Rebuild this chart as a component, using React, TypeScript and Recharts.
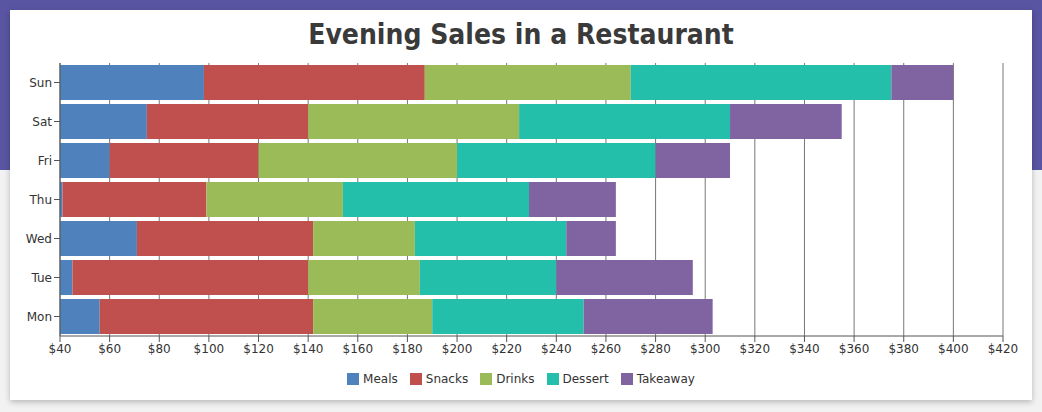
import { BarChart, Bar, XAxis, YAxis, CartesianGrid } from 'recharts'

const days = ['Sun', 'Sat', 'Fri', 'Thu', 'Wed', 'Tue', 'Mon']
const meals = [98, 75, 60, 41, 71, 45, 56]
const snacks = [89, 65, 60, 58, 71, 95, 86]
const drinks = [83, 85, 80, 55, 41, 45, 48]
const dessert = [105, 85, 80, 75, 61, 55, 61]
const takeaway = [25, 45, 30, 35, 20, 55, 52]
const xTicks = [40, 60, 80, 100, 120, 140, 160, 180, 200, 220, 240, 260, 280, 300, 320, 340, 360, 380, 400, 420]

const series = [
  { key: 'Meals', color: '#4f81bc' },
  { key: 'Snacks', color: '#c0504e' },
  { key: 'Drinks', color: '#9bbb58' },
  { key: 'Dessert', color: '#23bfaa' },
  { key: 'Takeaway', color: '#8064a1' },
]

const data = days.map((d, i) => ({
  day: d,
  Meals: meals[i],
  Snacks: snacks[i],
  Drinks: drinks[i],
  Dessert: dessert[i],
  Takeaway: takeaway[i],
}))

const font = '"DejaVu Sans", sans-serif'

export default function App() {
  return (
    <div
      style={{
        position: 'absolute',
        left: 0,
        top: 0,
        width: 1042,
        height: 412,
        background: 'linear-gradient(#5a55a3 0, #5a55a3 170px, #f2f2f2 170px)',
        overflow: 'hidden',
      }}
    >
      <div
        style={{
          position: 'absolute',
          left: 10,
          top: 10,
          width: 1022,
          height: 390,
          background: '#fff',
          boxShadow: '0 2px 6px rgba(0,0,0,0.25)',
        }}
      >
        <div
          style={{
            position: 'absolute',
            top: 8,
            width: '100%',
            textAlign: 'center',
            fontFamily: '"DejaVu Sans Condensed", sans-serif',
            fontWeight: 'bold',
            fontSize: 28,
            color: '#3a3a3a',
          }}
        >
          Evening Sales in a Restaurant
        </div>
        <BarChart
          width={1022}
          height={360}
          data={data}
          layout="vertical"
          margin={{ top: 53, right: 29, left: 10, bottom: 4 }}
          barCategoryGap={2}
        >
          <CartesianGrid horizontal={false} stroke="#777" />
          <XAxis
            type="number"
            domain={[40, 420]}
            ticks={xTicks}
            allowDataOverflow
            tickFormatter={(v) => `$${v}`}
            tick={{ fontSize: 12, fill: '#333', fontFamily: font }}
            stroke="#555"
            height={30}
          />
          <YAxis
            type="category"
            dataKey="day"
            width={40}
            tick={{ fontSize: 12, fill: '#333', fontFamily: font }}
            stroke="#555"
          />
          {series.map((s) => (
            <Bar key={s.key} dataKey={s.key} stackId="a" fill={s.color} isAnimationActive={false} />
          ))}
        </BarChart>
        <div
          style={{
            position: 'absolute',
            top: 362,
            width: '100%',
            display: 'flex',
            justifyContent: 'center',
            gap: 12,
            fontFamily: font,
            fontSize: 12,
            color: '#333',
          }}
        >
          {series.map((s) => (
            <div key={s.key} style={{ display: 'flex', alignItems: 'center', gap: 4 }}>
              <span style={{ width: 12, height: 12, background: s.color, display: 'inline-block' }} />
              {s.key}
            </div>
          ))}
        </div>
      </div>
    </div>
  )
}
